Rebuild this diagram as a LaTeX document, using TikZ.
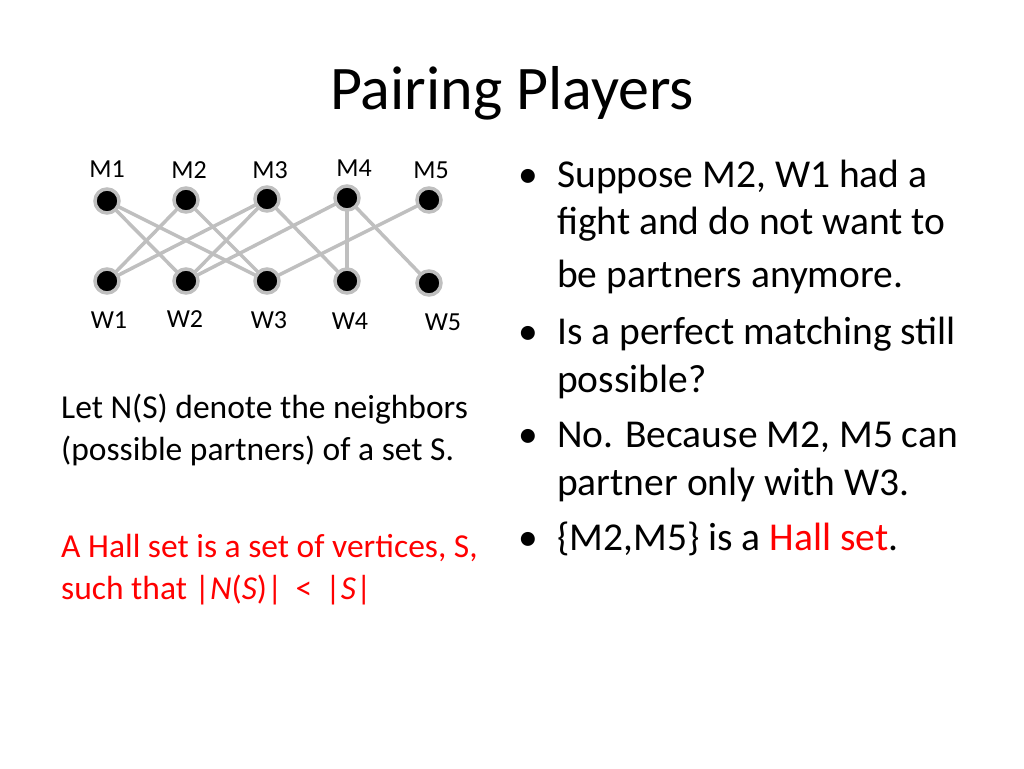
\documentclass[tikz,border=0pt]{standalone}
\usepackage{fontspec}
\setmainfont{Carlito}
\begin{document}
\begin{tikzpicture}[x=1pt,y=-1pt,
 v/.style={circle,fill=black,draw=black!25,line width=3.5pt,inner sep=0pt,minimum size=24pt},
 e/.style={draw=black!25,line width=3.5pt},
 lab/.style={font=\fontsize{26}{30}\selectfont},
 bt/.style={anchor=base west,font=\fontsize{39.5}{46}\selectfont,inner sep=0pt},
 lt/.style={anchor=base west,font=\fontsize{33.5}{40}\selectfont,inner sep=0pt}]
\useasboundingbox (0,0) rectangle (1024,768);
\node[font=\fontsize{62}{72}\selectfont] (title) at (512,93) {Pairing Players};
\coordinate (m1) at (107,201); \coordinate (m2) at (186,200); \coordinate (m3) at (267,199);
\coordinate (m4) at (347,198); \coordinate (m5) at (429,200);
\coordinate (w1) at (107,281); \coordinate (w2) at (186,281); \coordinate (w3) at (267,281);
\coordinate (w4) at (347,281); \coordinate (w5) at (429,283);
\foreach \a/\b in {m1/w2,m1/w3,m2/w1,m2/w3,m3/w1,m3/w2,m3/w4,m4/w2,m4/w4,m4/w5,m5/w3}
  \draw[e] (\a) -- (\b);
\foreach \n in {m1,m2,m3,m4,m5,w1,w2,w3,w4,w5} \node[v] (N\n) at (\n) {};
\node[lab] (lm1) at (107,169) {M1}; \node[lab] (lm2) at (189,170) {M2}; \node[lab] (lm3) at (270,170) {M3};
\node[lab] (lm4) at (354,168) {M4}; \node[lab] (lm5) at (431,170) {M5};
\node[lab] (lw1) at (109,320) {W1}; \node[lab] (lw2) at (185,319) {W2}; \node[lab] (lw3) at (269,320) {W3};
\node[lab] (lw4) at (350,321) {W4}; \node[lab] (lw5) at (443,322) {W5};
\node[lt] (l1) at (61,418) {Let N(S) denote the neighbors};
\node[lt] (l2) at (61,460) {(possible partners) of a set S.};
\node[lt,text=red] (l3) at (61,557) {A Hall set is a set of vertices, S,};
\node[lt,text=red] (l4) at (61,599) {such that |\textit{N}(\textit{S})| \,<\, |\textit{S}|};
\foreach \y in {187,344,447,550} \node[bt] at (518,\y) {•};
\node[bt] (b1) at (557,187) {Suppose M2, W1 had a};
\node[bt] (b2) at (557,234) {fight and do not want to};
\node[bt] (b3) at (557,287) {be partners anymore.};
\node[bt] (b4) at (557,344) {Is a perfect matching still};
\node[bt] (b5) at (557,392) {possible?};
\node[bt] (b6) at (557,447) {No. Because M2, M5 can};
\node[bt] (b7) at (557,495) {partner only with W3.};
\node[bt] (b8) at (557,550) {\{M2,M5\} is a \textcolor{red}{Hall set}.};
\end{tikzpicture}
\end{document}
